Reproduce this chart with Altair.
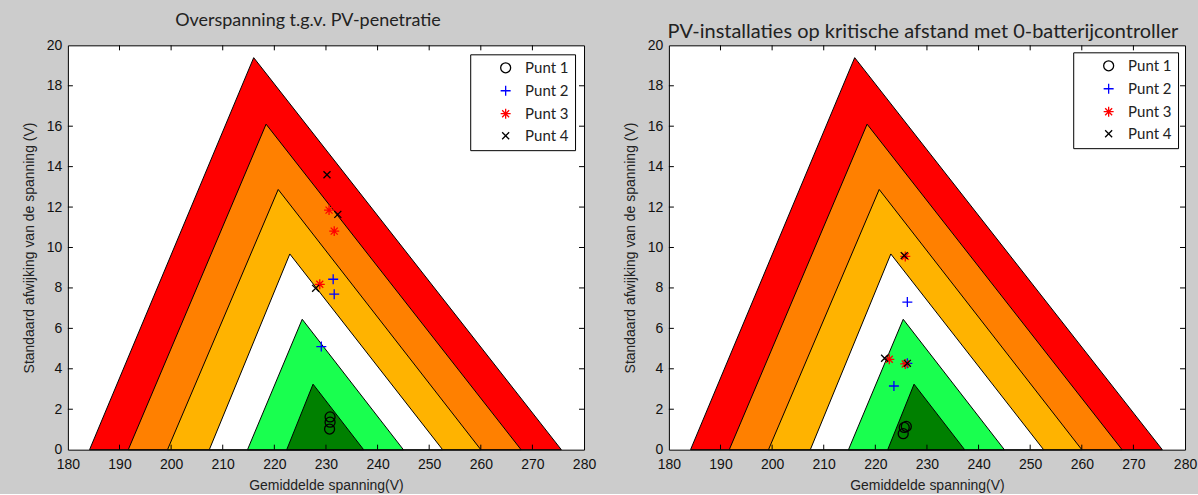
import altair as alt
import pandas as pd

# ---- axis ticks ----
x_ticks = list(range(180, 281, 10))
y_ticks = list(range(0, 21, 2))

# ---- triangle bands (outer to inner) ----
band_names = ["rood", "oranje", "geel", "wit", "lichtgroen", "donkergroen"]
band_colors = ["#ff0000", "#ff8000", "#ffb300", "#ffffff", "#19ff4f", "#008000"]
band_left = [184.2, 191.7, 199.3, 207.4, 214.8, 222.4]
band_apex_x = [216.0, 218.4, 220.75, 223.0, 225.4, 227.5]
band_apex_y = [19.39, 16.1, 12.87, 9.68, 6.45, 3.24]
band_right = [275.6, 267.8, 260.0, 252.6, 245.0, 237.3]

# ---- series ----
series_names = ["Punt 1", "Punt 2", "Punt 3", "Punt 4"]
series_colors = ["#000000", "#0000ff", "#ff0000", "#000000"]
series_shapes = [
    "circle",
    "M-1,0H1M0,-1V1",
    "M-1,0H1M0,-1V1M-0.7,-0.7L0.7,0.7M-0.7,0.7L0.7,-0.7",
    "M-0.7,-0.7L0.7,0.7M-0.7,0.7L0.7,-0.7",
]

left_series = ["Punt 1"] * 3 + ["Punt 2"] * 3 + ["Punt 3"] * 3 + ["Punt 4"] * 3
left_x = [230.8, 230.8, 230.7, 229.1, 231.4, 231.6, 230.6, 231.6, 228.8, 230.2, 232.3, 228.0]
left_y = [1.62, 1.36, 1.02, 5.10, 8.43, 7.69, 11.85, 10.81, 8.18, 13.6, 11.64, 7.98]

right_series = ["Punt 1"] * 3 + ["Punt 2"] * 3 + ["Punt 3"] * 3 + ["Punt 4"] * 3
right_x = [226.0, 225.6, 225.4, 226.2, 223.6, 226.2, 225.8, 222.7, 225.8, 225.6, 221.8, 226.2]
right_y = [1.15, 1.1, 0.79, 7.3, 3.15, 4.27, 9.56, 4.47, 4.24, 9.6, 4.52, 4.27]

AXIS_FONT = "Liberation Sans"
H = 405
W = 517


def panel(title, series, xs, ys, width, title_size, title_offset, title_dx, legend_offset):
    tri_rows = []
    for i, name in enumerate(band_names):
        tri_rows.append({"band": name, "x": band_left[i], "y": 0.0})
        tri_rows.append({"band": name, "x": band_apex_x[i], "y": band_apex_y[i]})
        tri_rows.append({"band": name, "x": band_right[i], "y": 0.0})
    tri_df = pd.DataFrame(tri_rows)
    pts_df = pd.DataFrame({"series": series, "x": xs, "y": ys})
    xt_df = pd.DataFrame({"v": x_ticks[1:-1]})
    yt_df = pd.DataFrame({"v": y_ticks[1:-1]})

    xscale = alt.Scale(domain=[180, 280], nice=False, zero=False)
    yscale = alt.Scale(domain=[0, 20], nice=False, zero=False)
    xaxis = alt.Axis(values=x_ticks, ticks=False, domain=False, grid=False,
                     title="Gemiddelde spanning(V)", labelFont=AXIS_FONT,
                     labelFontSize=14, labelColor="#111", labelPadding=8,
                     titleFont=AXIS_FONT, titleFontSize=14, titleFontWeight="normal",
                     titleColor="#222", titlePadding=7, labelFlush=False)
    yaxis = alt.Axis(values=y_ticks, ticks=False, domain=False, grid=False,
                     title="Standaard afwijking van de spanning (V)", labelFont=AXIS_FONT,
                     labelFontSize=14, labelColor="#111", labelPadding=6,
                     titleFont=AXIS_FONT, titleFontSize=14, titleFontWeight="normal",
                     titleColor="#222", titlePadding=10, labelFlush=False)

    def X(f):
        return alt.X(f, type="quantitative", scale=xscale, axis=xaxis)

    def Y(f):
        return alt.Y(f, type="quantitative", scale=yscale, axis=yaxis, stack=None)

    layers = []
    for i, name in enumerate(band_names):
        layers.append(
            alt.Chart(tri_df)
            .transform_filter(alt.datum.band == name)
            .mark_area(color=band_colors[i], stroke="black", strokeWidth=1, opacity=1)
            .encode(x=X("x"), y=Y("y"))
        )

    # inward ticks on all four sides
    layers.append(alt.Chart(xt_df).mark_rule(color="black", strokeWidth=1)
                  .encode(x=X("v"), y=alt.value(H), y2=alt.value(H - 5)))
    layers.append(alt.Chart(xt_df).mark_rule(color="black", strokeWidth=1)
                  .encode(x=X("v"), y=alt.value(0), y2=alt.value(5)))
    layers.append(alt.Chart(yt_df).mark_rule(color="black", strokeWidth=1)
                  .encode(y=Y("v"), x=alt.value(0), x2=alt.value(5)))
    layers.append(alt.Chart(yt_df).mark_rule(color="black", strokeWidth=1)
                  .encode(y=Y("v"), x=alt.value(width - 5), x2=alt.value(width)))

    legend = alt.Legend(title=None, orient="top-right", offset=legend_offset, fillColor="white",
                        strokeColor="black", padding=6, symbolOffset=22, labelOffset=12,
                        labelFont="Lato", labelFontSize=15, labelColor="#222",
                        rowPadding=6, symbolSize=100, symbolStrokeWidth=1.3)
    layers.append(
        alt.Chart(pts_df)
        .mark_point(filled=False, size=100, strokeWidth=1.3, opacity=1)
        .encode(
            x=X("x"), y=Y("y"),
            color=alt.Color("series:N", scale=alt.Scale(domain=series_names, range=series_colors), legend=legend),
            shape=alt.Shape("series:N", scale=alt.Scale(domain=series_names, range=series_shapes), legend=legend),
        )
    )
    return alt.layer(*layers).properties(
        width=width, height=H,
        title=alt.TitleParams(title, font="Lato", fontSize=title_size, fontWeight="normal",
                              color="#222", anchor="middle", frame="group",
                              offset=title_offset, dx=title_dx),
    )


left = panel("Overspanning t.g.v. PV-penetratie", left_series, left_x, left_y, W,
             18, 8, -18, 9)
right = panel("PV-installaties op kritische afstand met 0-batterijcontroller",
              right_series, right_x, right_y, W, 20, -4, -4, 7)

chart = (
    alt.hconcat(left, right, spacing=25)
    .resolve_scale(color="independent", shape="independent")
    .resolve_legend(color="independent", shape="independent")
    .properties(padding={"left": 21, "top": 11, "right": 0, "bottom": 0})
    .configure(background="#cccccc")
    .configure_view(stroke="black", strokeWidth=1, fill="white")
)

chart.save("out.html", embed_options={"renderer": "svg", "actions": False})
